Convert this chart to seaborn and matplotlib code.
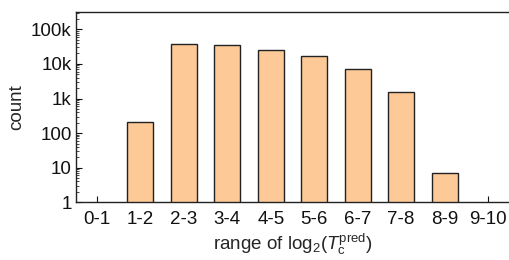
import numpy as np
import pandas as pd
import matplotlib
matplotlib.use("Agg")
import matplotlib.pyplot as plt
import seaborn as sns
from matplotlib.ticker import LogLocator, FixedLocator, FixedFormatter, NullFormatter

# binned counts of log2(Tc_pred)
bins = ['0-1', '1-2', '2-3', '3-4', '4-5', '5-6', '6-7', '7-8', '8-9', '9-10']
counts = [0, 214, 36800, 35200, 25700, 16900, 6980, 1550, 7, 0]
ytick_vals = [1, 10, 100, 1000, 10000, 100000]
ytick_labels = ['1', '10', '100', '1k', '10k', '100k']

df = pd.DataFrame({'bin': bins, 'count': counts})

sns.set_style('ticks')
plt.rcParams['font.family'] = ['Liberation Sans', 'DejaVu Sans']
plt.rcParams['mathtext.fontset'] = 'custom'
plt.rcParams['mathtext.rm'] = 'Liberation Sans'
plt.rcParams['mathtext.it'] = 'Liberation Sans:italic'

fig = plt.figure(figsize=(5.09, 2.6), dpi=100)
ax = fig.add_axes([76 / 509, 1 - 202.3 / 260, 1 - 76 / 509, (202.3 - 12) / 260])

sns.barplot(data=df, x='bin', y='count', color='#fdc997', edgecolor='#222222',
            linewidth=1.0, width=0.6, saturation=1, ax=ax)
ax.set_yscale('log', nonpositive='clip')

ax.set_ylim(1, 10 ** 5.5)
ax.set_xlim(-0.48, 9.48)
ax.yaxis.set_major_locator(FixedLocator(ytick_vals))
ax.yaxis.set_major_formatter(FixedFormatter(ytick_labels))
ax.yaxis.set_minor_locator(LogLocator(base=10, subs=np.arange(2, 10), numticks=20))
ax.yaxis.set_minor_formatter(NullFormatter())

ax.tick_params(axis='both', which='major', direction='in', length=4, width=0.8,
               labelsize=13.5, colors='#111111')
ax.tick_params(axis='y', which='minor', direction='in', length=2, width=0.6)
ax.tick_params(axis='x', pad=6)
ax.tick_params(axis='y', pad=3)

for side in ['left', 'bottom', 'top']:
    ax.spines[side].set_linewidth(1.0)
    ax.spines[side].set_color('#222222')
ax.spines['right'].set_visible(False)

ax.set_xlabel(r'range of log$_2$($\mathit{T}_\mathrm{c}^\mathrm{pred}$)', fontsize=13.5, labelpad=3)
ax.set_ylabel('count', fontsize=13.5, labelpad=4)

fig.savefig('out.png', dpi=100)
